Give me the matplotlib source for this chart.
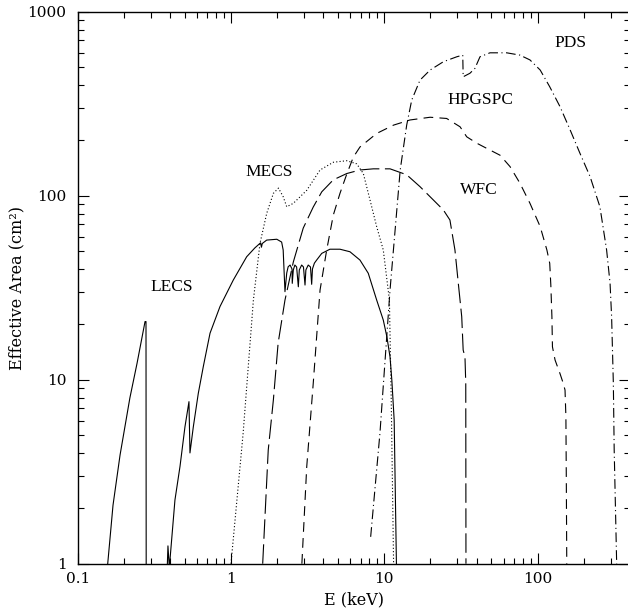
import matplotlib
matplotlib.use("Agg")
import matplotlib.pyplot as plt
from matplotlib import ticker

# Corbes d'area efectiva dels instruments (E en keV, area en cm2)
lecs_e = [0.157, 0.170, 0.189, 0.219, 0.244, 0.275, 0.279, 0.280,
          0.383, 0.388, 0.396, 0.431, 0.465, 0.501, 0.532, 0.540,
          0.568, 0.612, 0.660, 0.730, 0.848, 1.035, 1.266, 1.43, 1.56,
          1.58, 1.60, 1.71, 1.99, 2.14, 2.19, 2.25,
          2.31, 2.36, 2.43, 2.50, 2.51,
          2.55, 2.61, 2.68, 2.75,
          2.79, 2.89, 2.97, 3.04,
          3.08, 3.19, 3.30, 3.36,
          3.40, 3.50, 3.62, 3.91, 4.42, 5.14, 5.97, 6.94, 7.86, 8.92,
          9.85, 10.4, 10.9, 11.2, 11.6, 12.0]
lecs_a = [1.0, 2.08, 3.90, 7.96, 12.3, 20.7, 20.7, 0.5,
          0.9, 1.25, 0.95, 2.22, 3.38, 5.55, 7.6, 4.0,
          5.55, 8.43, 11.8, 17.9, 25.0, 34.8, 46.6, 52.0, 55.5,
          52.5, 55.0, 57.4, 58.0, 56.0, 50.7, 30.1,
          38.0, 41.1, 42.0, 40.0, 33.4,
          39.5, 42.0, 41.0, 32.0,
          39.5, 42.0, 41.0, 32.7,
          39.5, 42.0, 41.0, 33.0,
          40.0, 43.0, 44.7, 48.6, 51.2, 51.2, 49.6, 44.7, 37.9, 27.1,
          21.1, 17.1, 13.3, 9.96, 6.04, 1.0]

mecs_e = [1.0, 1.20, 1.40, 1.546, 1.71, 1.89, 2.04, 2.19, 2.31, 2.55,
          3.12, 3.81, 4.65, 5.69, 6.61, 7.30, 8.07, 8.92, 9.85, 10.8,
          11.1, 11.5]
mecs_a = [1.0, 5.11, 27.1, 55.1, 80.2, 103, 110, 98.8, 87.1, 90.9,
          107, 138, 152, 155, 149, 132, 94.8, 67.9, 50.7, 27.1,
          7.76, 1.0]

wfc_e = [1.61, 1.75, 1.89, 2.03, 2.25, 2.55, 2.96, 3.44, 3.91, 4.65,
         5.69, 6.94, 8.48, 10.9, 14.0, 17.1, 20.9, 24.3, 26.8, 28.9,
         30.4, 32.0, 32.7, 33.6, 34.0, 34.1]
wfc_a = [1.0, 4.15, 7.76, 15.8, 27.1, 43.6, 66.7, 86.8, 105, 122,
         132, 138, 140, 140, 130, 112, 94.8, 83.6, 73.8, 50.7,
         33.4, 22.0, 14.5, 13.3, 9.56, 1.0]

hpgspc_e = [2.90, 3.12, 3.44, 3.81, 4.21, 4.65, 5.14, 5.69, 6.28, 6.94,
            8.92, 11.5, 14.7, 19.9, 25.5, 31.2, 34.5, 40.1, 46.5, 56.9,
            66.1, 76.7, 89.2, 104, 115, 120, 122, 124, 125, 130,
            140, 147, 151, 153, 154, 155]
hpgspc_a = [1.0, 3.37, 9.56, 30.7, 50.7, 78.5, 103, 131, 162, 184,
            218, 242, 258, 267, 263, 237, 209, 193, 181, 166,
            144, 117, 90.9, 67.9, 50.7, 42.9, 32.7, 22.0, 15.1, 12.8,
            10.8, 9.56, 8.79, 6.30, 2.73, 1.0]

pds_e = [8.15, 9.37, 10.9, 12.7, 14.0, 15.1, 17.1, 19.9, 24.3, 29.7,
         32.5, 32.7, 36.2, 39.0, 42.1, 48.9, 62.9, 76.7, 89.2, 104,
         120, 140, 163, 189, 220, 255, 282, 297, 304, 312,
         316, 328]
pds_a = [1.40, 5.13, 30.7, 138, 242, 331, 425, 482, 535, 569,
         581, 443, 463, 492, 569, 598, 598, 581, 547, 482,
         391, 305, 228, 170, 127, 87.1, 50.7, 33.4, 22.0, 9.56,
         4.15, 1.0]

# Etiquetes dels instruments: (text, E, area)
etiquetes = [("LECS", 0.412, 31.9),
             ("MECS", 1.78, 135),
             ("HPGSPC", 42.7, 331),
             ("PDS", 163, 676),
             ("WFC", 41.5, 107)]

plt.rcParams['lines.scale_dashes'] = False
plt.rcParams['font.family'] = ['DejaVu Serif']

fig = plt.figure(figsize=(6.28, 6.14), dpi=100)
ax = fig.add_axes([0.1237, 0.0819, 0.8793, 0.899])

lw = 0.8
ax.plot(lecs_e, lecs_a, color='black', lw=lw, linestyle='-')
ax.plot(mecs_e, mecs_a, color='black', lw=lw, linestyle=(0, (0.8, 1.6)))
ax.plot(wfc_e, wfc_a, color='black', lw=lw, linestyle=(0, (14, 4)))
ax.plot(hpgspc_e, hpgspc_a, color='black', lw=lw, linestyle=(0, (7, 4.5)))
ax.plot(pds_e, pds_a, color='black', lw=lw, linestyle=(0, (7, 2.5, 0.8, 2.5)))

for text, e, a in etiquetes:
    ax.text(e, a, text, ha='center', va='center', fontsize=12.5,
            family='Liberation Serif')

ax.set_xscale('log')
ax.set_yscale('log')
ax.set_xlim(0.1, 400)
ax.set_ylim(1, 1000)

fmt = ticker.FuncFormatter(lambda v, _: '%g' % v)
ax.xaxis.set_major_formatter(fmt)
ax.yaxis.set_major_formatter(fmt)
ax.xaxis.set_minor_formatter(ticker.NullFormatter())
ax.yaxis.set_minor_formatter(ticker.NullFormatter())

ax.tick_params(which='both', direction='in', top=True, right=True,
               width=0.8, labelsize=11)
ax.tick_params(which='major', length=8)
ax.tick_params(which='minor', length=4)
ax.tick_params(axis='x', which='major', pad=6)
ax.tick_params(axis='y', which='major', pad=8)

for sp in ax.spines.values():
    sp.set_linewidth(1.0)

ax.set_xlabel('E (keV)', fontsize=11.5, labelpad=4)
ax.set_ylabel('Effective Area (cm²)', fontsize=11.5, labelpad=1.5)

fig.savefig('out.png', dpi=100)
